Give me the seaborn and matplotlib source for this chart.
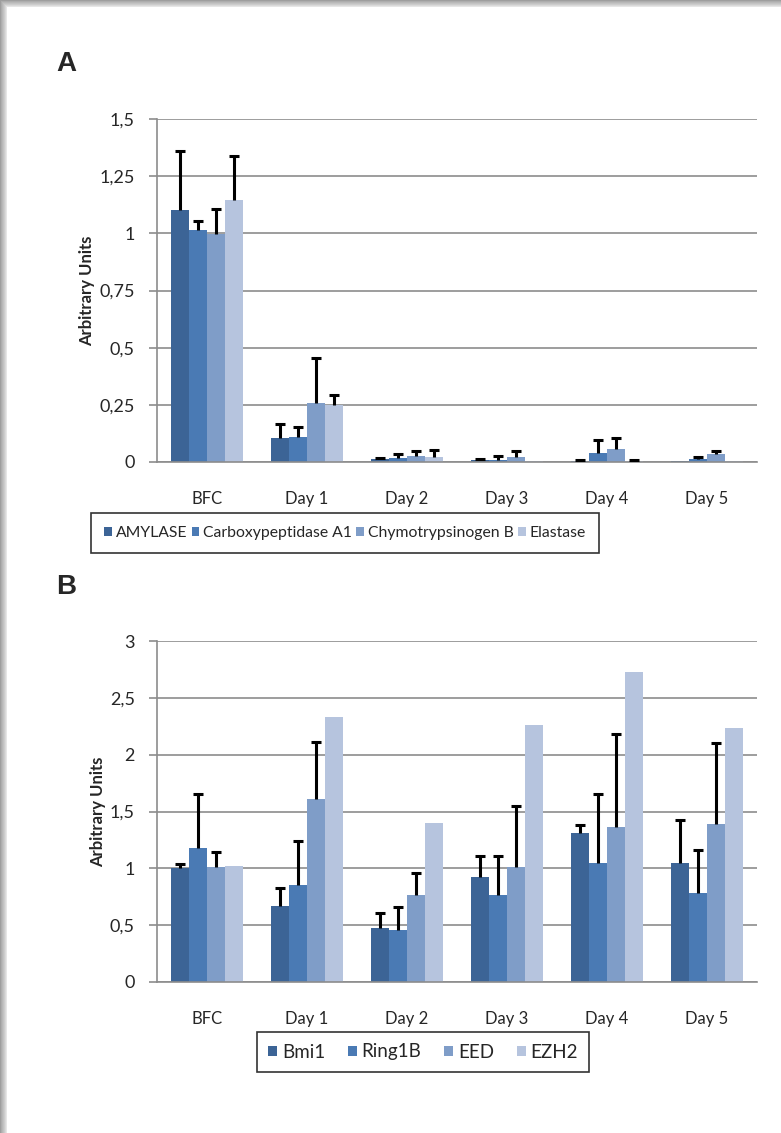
import numpy as np
import pandas as pd
import matplotlib
matplotlib.use("Agg")
import matplotlib.pyplot as plt
import seaborn as sns
from matplotlib.patches import Rectangle
from matplotlib.ticker import FuncFormatter

sns.set_theme(style="white")
plt.rcParams['font.family'] = ['Lato', 'DejaVu Sans']

days = ["BFC", "Day 1", "Day 2", "Day 3", "Day 4", "Day 5"]

# Panel A
genes_a = ["AMYLASE", "Carboxypeptidase A1", "Chymotrypsinogen B", "Elastase"]
amylase = [1.103, 0.105, 0.013, 0.008, 0.004, 0.004]
amylase_err = [0.256, 0.061, 0.004, 0.003, 0.006, np.nan]
carboxy = [1.013, 0.109, 0.017, 0.010, 0.041, 0.013]
carboxy_err = [0.039, 0.044, 0.019, 0.016, 0.054, 0.007]
chymo = [0.998, 0.257, 0.028, 0.020, 0.057, 0.035]
chymo_err = [0.108, 0.199, 0.019, 0.028, 0.046, 0.013]
elastase = [1.144, 0.249, 0.023, 0.003, 0.003, 0.003]
elastase_err = [0.193, 0.045, 0.028, np.nan, 0.007, np.nan]

# Panel B
genes_b = ["Bmi1", "Ring1B", "EED", "EZH2"]
bmi1 = [1.001, 0.670, 0.471, 0.922, 1.308, 1.045]
bmi1_err = [0.035, 0.161, 0.138, 0.187, 0.076, 0.377]
ring1b = [1.179, 0.849, 0.459, 0.764, 1.045, 0.784]
ring1b_err = [0.474, 0.392, 0.197, 0.345, 0.608, 0.378]
eed = [1.013, 1.607, 0.764, 1.016, 1.367, 1.390]
eed_err = [0.128, 0.503, 0.199, 0.535, 0.816, 0.711]
ezh2 = [1.024, 2.327, 1.402, 2.265, 2.725, 2.233]
ezh2_err = [np.nan] * 6

palette = ["#3C6496", "#4A7AB4", "#7F9DC8", "#B6C4DE"]

W, H = 781, 1133
fig = plt.figure(figsize=(W / 100, H / 100), dpi=100)

# decorative frame shadow (left and top)
for i, g in enumerate([0.62, 0.68, 0.72, 0.76, 0.80, 0.85, 0.90]):
    fig.add_artist(Rectangle((i / W, 0), 1 / W, 1 - i / H, transform=fig.transFigure,
                             color=(g, g, g), lw=0, zorder=-10))
    fig.add_artist(Rectangle((i / W, 1 - (i + 1) / H), 1 - i / W, 1 / H, transform=fig.transFigure,
                             color=(g, g, g), lw=0, zorder=-10))


def make_panel(rect, genes, vals, errs, ymax, step, letter, letter_y, leg_center,
               leg_size, colsp, bpad):
    ax = fig.add_axes(rect)
    rows = []
    for g, v in zip(genes, vals):
        for d, x in zip(days, v):
            rows.append({"day": d, "gene": g, "value": x})
    df = pd.DataFrame(rows)
    sns.barplot(data=df, x="day", y="value", hue="gene", order=days, hue_order=genes,
                palette=palette, width=0.72, gap=0, errorbar=None, ax=ax,
                linewidth=0, saturation=1, legend=True)
    for cont, e in zip(ax.containers, errs):
        for p, err in zip(cont.patches, e):
            if np.isnan(err):
                continue
            xc = p.get_x() + p.get_width() / 2
            top = p.get_height() + err
            ax.vlines(xc, p.get_height(), top, color="black", lw=2.2, zorder=5)
            ax.hlines(top, xc - 0.05, xc + 0.05, color="black", lw=2.2, zorder=5)
    ax.set_xlim(-0.5, 5.5)
    ax.set_ylim(0, ymax)
    ax.set_yticks(np.arange(0, ymax + 1e-9, step))
    ax.yaxis.set_major_formatter(FuncFormatter(
        lambda v, p: ("%g" % round(v, 2)).replace(".", ",")))
    ax.set_xticks(np.arange(-0.5, 6, 1), minor=True)
    ax.tick_params(axis="x", which="major", length=0, pad=21, labelsize=12)
    ax.tick_params(axis="x", which="minor", length=6, width=1.2, color="#8c8c8c", direction="out")
    ax.tick_params(axis="y", which="major", length=6, width=1.2, color="#8c8c8c",
                   direction="out", labelsize=13, pad=10, left=True)
    ax.grid(axis="y", color="#8c8c8c", lw=1.2)
    ax.set_axisbelow(True)
    for s in ["top", "right"]:
        ax.spines[s].set_visible(False)
    for s in ["left", "bottom"]:
        ax.spines[s].set_color("#8c8c8c")
        ax.spines[s].set_linewidth(1.2)
    ax.set_xlabel("")
    ax.set_ylabel("Arbitrary Units", fontsize=12, fontweight="bold", labelpad=3)
    handles, labels = ax.get_legend_handles_labels()
    ax.legend(handles, labels, loc="center",
              bbox_to_anchor=(leg_center[0] / W, 1 - leg_center[1] / H),
              bbox_transform=fig.transFigure, ncol=4, frameon=True, fancybox=False,
              edgecolor="black", fontsize=leg_size,
              handlelength=0.5, handleheight=0.5,
              handletextpad=0.25, borderpad=bpad, borderaxespad=0, columnspacing=colsp)
    ax.get_legend().get_frame().set_linewidth(1.2)
    fig.text(56 / W, 1 - letter_y / H, letter, fontsize=20, fontweight="bold",
             fontfamily="Liberation Sans", va="center", ha="left")
    return ax


make_panel([157 / W, 1 - 462 / H, 600 / W, 343 / H], genes_a,
           [amylase, carboxy, chymo, elastase],
           [amylase_err, carboxy_err, chymo_err, elastase_err],
           1.5, 0.25, "A", 64, (345, 533), 11.3, 0.25, 0.82)
make_panel([157 / W, 1 - 982 / H, 600 / W, 341 / H], genes_b,
           [bmi1, ring1b, eed, ezh2],
           [bmi1_err, ring1b_err, eed_err, ezh2_err],
           3.0, 0.5, "B", 587, (423, 1052), 13.5, 1.2, 0.6)

fig.savefig("out.png", dpi=100)
